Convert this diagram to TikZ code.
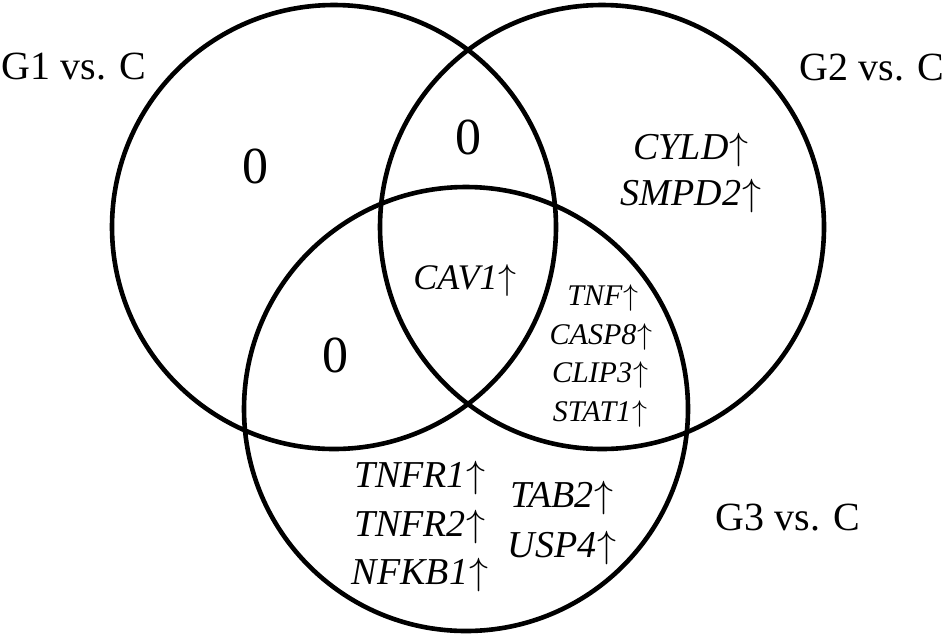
\documentclass[tikz,border=0pt]{standalone}
\usepackage{fix-cm}
\usepackage{fontspec}
\setmainfont{Liberation Serif}
\newcommand{\upar}{\kern1pt$\uparrow$}
\begin{document}
\begin{tikzpicture}[x=1pt,y=-1pt,
  ring/.style={draw=black,line width=4.6pt},
  grp/.style={font=\fontsize{40}{46}\selectfont,inner sep=0pt},
  zero/.style={font=\fontsize{52}{60}\selectfont,inner sep=0pt},
  gene/.style={font=\fontsize{38}{44}\selectfont,inner sep=0pt},
  sgene/.style={font=\fontsize{30}{36}\selectfont,inner sep=0pt}]
\useasboundingbox (0,0) rectangle (949,638);
\draw[ring] (334,227) circle[radius=222];
\draw[ring] (602,227) circle[radius=222];
\draw[ring] (466,409) circle[radius=222];
\node[grp] (g1) at (74,67) {G1 vs. C};
\node[grp] (g2) at (872,68) {G2 vs. C};
\node[grp] (g3) at (788,518) {G3 vs. C};
\node[zero] (z1) at (255,166) {0};
\node[zero] (z2) at (468,137) {0};
\node[zero] (z3) at (335,355) {0};
\node[gene,font=\fontsize{36}{42}\selectfont] (cav) at (465,280) {\textit{CAV1}\upar};
\node[gene] (cyld) at (691,150) {\textit{CYLD}\upar};
\node[gene] (smpd) at (691,196) {\textit{SMPD2}\upar};
\node[sgene] (tnf) at (603,298) {\textit{TNF}\upar};
\node[sgene] (casp) at (601,337) {\textit{CASP8}\upar};
\node[sgene] (clip) at (600,375) {\textit{CLIP3}\upar};
\node[sgene] (stat) at (600,414) {\textit{STAT1}\upar};
\node[gene] (tnfr1) at (420,478) {\textit{TNFR1}\upar};
\node[gene] (tnfr2) at (420,527) {\textit{TNFR2}\upar};
\node[gene] (nfkb) at (420,575) {\textit{NFKB1}\upar};
\node[gene] (tab) at (562,498) {\textit{TAB2}\upar};
\node[gene] (usp) at (562,548) {\textit{USP4}\upar};
\end{tikzpicture}
\end{document}
